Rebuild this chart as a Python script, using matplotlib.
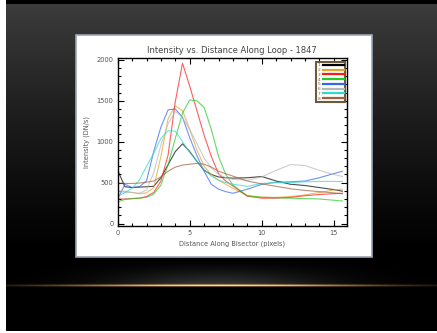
import numpy as np
import matplotlib
matplotlib.use("Agg")
import matplotlib.pyplot as plt
from matplotlib.patches import Rectangle
from matplotlib.ticker import MultipleLocator

# ── Intensity profiles along the loop bisector (DN/s), 8 cuts ────────────────
distance = [0, 0.5, 1, 1.5, 2, 2.5, 3, 3.5, 4, 4.5, 5, 5.5, 6, 6.5, 7, 7.5, 8,
            9, 10, 11, 12, 13, 14, 15, 15.6]

cut1 = [650, 450, 440, 445, 450, 455, 560, 720, 880, 975, 880, 760, 650, 600,
        570, 560, 555, 560, 575, 520, 480, 465, 440, 415, 395]
cut2 = [390, 395, 380, 365, 375, 440, 820, 1280, 1440, 1380, 1150, 900, 700,
        600, 530, 480, 430, 340, 325, 320, 330, 350, 380, 410, 420]
cut3 = [300, 300, 305, 310, 330, 380, 520, 840, 1490, 1960, 1680, 1380, 1080,
        820, 610, 520, 460, 335, 310, 310, 320, 340, 355, 365, 370]
cut4 = [265, 295, 305, 310, 320, 360, 470, 720, 1040, 1350, 1510, 1500, 1420,
        1150, 820, 600, 470, 340, 320, 315, 310, 305, 300, 285, 275]
cut5 = [300, 480, 440, 450, 520, 880, 1180, 1390, 1400, 1300, 1050, 830, 640,
        480, 420, 390, 370, 420, 480, 505, 510, 520, 560, 610, 640]
cut6 = [400, 380, 380, 370, 410, 620, 960, 1220, 1370, 1300, 1150, 980, 800,
        680, 600, 560, 540, 530, 570, 650, 720, 710, 650, 600, 575]
cut7 = [330, 380, 430, 530, 700, 860, 1040, 1135, 1130, 1000, 870, 760, 660,
        580, 530, 500, 480, 455, 490, 500, 500, 510, 515, 515, 515]
cut8 = [495, 490, 490, 495, 505, 520, 570, 640, 690, 715, 725, 735, 725, 690,
        640, 610, 580, 520, 485, 455, 425, 405, 390, 375, 365]

cuts = [cut1, cut2, cut3, cut4, cut5, cut6, cut7, cut8]
cut_labels = ['1', '2', '3', '4', '5', '6', '7', '8']
cut_colors = ['#000000', '#e0a428', '#ff1a1a', '#22cc22',
              '#3366ee', '#b8b8b8', '#30dcc8', '#a0603a']

W, H = 437, 333
fig = plt.figure(figsize=(W / 100, H / 100), dpi=100, facecolor='white')

# ── Slide backdrop: dark gradient, glow and gold rule ────────────────────────
bg = fig.add_axes([0, 0, 1, 1])
bg.set_xlim(0, W)
bg.set_ylim(H, 0)
bg.axis('off')

yy, xx = np.mgrid[0:331, 6:437].astype(float)
shade = 60 * np.clip(1 - (yy - 4) / 250, 0, 1) ** 1.2
shade[yy < 4] = 0
img = np.repeat(shade[..., None], 3, axis=2)

glow = np.exp(-((xx - 218) / 105) ** 2) * np.clip((yy - 258) / 27, 0, 1) ** 1.5
glow[yy > 285] = 0
img += 58 * glow[..., None]

rule = np.exp(-np.abs((xx - 218) / 165) ** 2.4) * np.exp(-((yy - 285) / 1.1) ** 2)
img += rule[..., None] * np.array([235, 165, 70])
img = np.clip(img, 0, 255).astype(np.uint8)
bg.imshow(img, extent=[6, 437, 331, 0], aspect='auto', interpolation='bilinear')

bg.add_patch(Rectangle((75.5, 35), 296.5, 222, facecolor='white',
                       edgecolor='#9aa6b4', lw=1.2))

# ── Intensity plot ───────────────────────────────────────────────────────────
ax = fig.add_axes([117.7 / W, 1 - 226 / H, 229 / W, 167.7 / H])
ax.set_facecolor('white')

for vals, lab, col in zip(cuts, cut_labels, cut_colors):
    ax.plot(distance, vals, color=col, lw=0.8, alpha=0.7)

ax.set_xlim(0, 15.9)
ax.set_ylim(-30, 2020)
ax.xaxis.set_major_locator(MultipleLocator(5))
ax.xaxis.set_minor_locator(MultipleLocator(1))
ax.yaxis.set_major_locator(MultipleLocator(500))
ax.yaxis.set_minor_locator(MultipleLocator(100))
ax.tick_params(which='both', direction='in', top=True, right=True,
               width=0.8, colors='black', labelcolor='#555555', labelsize=4.8)
ax.tick_params(which='major', length=4, pad=3)
ax.tick_params(which='minor', length=2)
for sp in ax.spines.values():
    sp.set_linewidth(1.0)

ax.set_title("Intensity vs. Distance Along Loop - 1847", fontsize=6,
             color='#444444', pad=4)
ax.set_xlabel("Distance Along Bisector (pixels)", fontsize=4.8,
              color='#555555', labelpad=3)
ax.set_ylabel("Intensity (DN/s)", fontsize=4.8, color='#555555', labelpad=5)

handles = [plt.Line2D([], [], color=c, lw=1.6) for c in cut_colors]
leg = ax.legend(handles, cut_labels, loc='upper right',
                bbox_to_anchor=(0.993, 0.98), markerfirst=False,
                fontsize=3.2, handlelength=4.6, handletextpad=0.6,
                labelspacing=0.15, borderpad=0.35, borderaxespad=0,
                fancybox=False, framealpha=1)
leg.get_frame().set_edgecolor('#6b5b3b')
leg.get_frame().set_linewidth(1.5)
for t in leg.get_texts():
    t.set_color('#7a5a30')

fig.savefig("out.png", dpi=100, facecolor=fig.get_facecolor())
